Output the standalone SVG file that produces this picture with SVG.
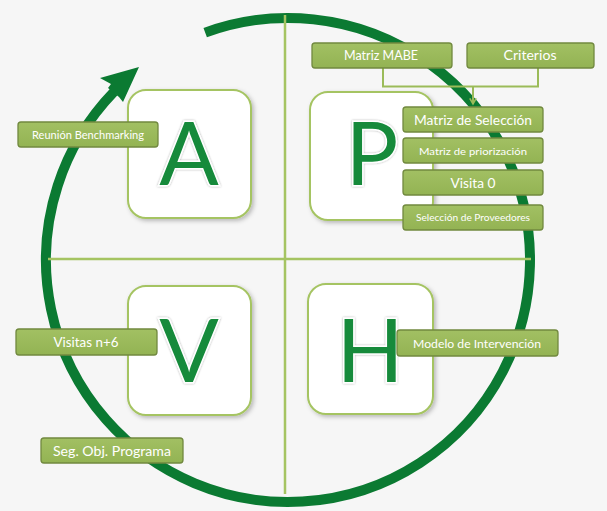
<svg xmlns="http://www.w3.org/2000/svg" width="607" height="511" viewBox="0 0 607 511">
<defs>
<filter id="sh" x="-20%" y="-20%" width="150%" height="150%">
<feDropShadow dx="2" dy="2" stdDeviation="2" flood-color="#000" flood-opacity="0.25"/>
</filter>
<filter id="lsh" x="-20%" y="-20%" width="140%" height="140%">
<feDropShadow dx="0" dy="0" stdDeviation="1.2" flood-color="#000" flood-opacity="0.35"/>
</filter>
<linearGradient id="lg" x1="0" y1="0" x2="0" y2="1">
<stop offset="0" stop-color="#a2c063"/>
<stop offset="1" stop-color="#93b353"/>
</linearGradient>
<marker id="arr" viewBox="0 0 10 10" refX="8" refY="5" markerWidth="8" markerHeight="8" markerUnits="userSpaceOnUse" orient="auto">
<path d="M1,1 L8,5 L1,9" fill="none" stroke="#9bbb59" stroke-width="2"/>
</marker>
</defs>
<style>
.bg{fill:#f6f6f6}
.cycle{fill:none;stroke:#0b7a32;stroke-width:10}
.axis{stroke:#a5c462;stroke-width:2.5;fill:none}
.card{fill:#fff;stroke:#a5c462;stroke-width:2;filter:url(#sh)}
.letter{font-family:Lato,"Open Sans","Liberation Sans",sans-serif;font-size:88px;fill:#138a3a;stroke:#fff;stroke-width:3;paint-order:stroke;text-anchor:middle;filter:url(#lsh)}
.lab{fill:url(#lg);stroke:#71893f;stroke-width:1.3}
.lt{font-family:Lato,"Open Sans","Liberation Sans",sans-serif;fill:#fff;text-anchor:middle;dominant-baseline:central}
.conn{fill:none;stroke:#9bbb59;stroke-width:2}
</style>
<rect class="bg" x="0" y="0" width="607" height="511"/>
<g id="cycle">
<path class="cycle" d="M205.2,32.6 A242,242 0 1 1 113.9,91.9"/>
<path d="M139,67 L100,78 L111,84 L108,88 L119,97 L123,102 Z" fill="#0b7a32"/>
</g>
<g id="axes">
<line class="axis" x1="285" y1="15" x2="285" y2="494"/>
<line class="axis" x1="48" y1="259" x2="531" y2="259"/>
</g>
<g id="node-A"><rect class="card" x="128" y="90" width="123" height="128" rx="18"/><text class="letter" x="189" y="185">A</text></g>
<g id="node-P"><rect class="card" x="310" y="92" width="123" height="128" rx="18"/><text class="letter" x="372" y="185">P</text></g>
<g id="node-V"><rect class="card" x="128" y="286" width="123" height="129" rx="18"/><text class="letter" x="189" y="382">V</text></g>
<g id="node-H"><rect class="card" x="308" y="284" width="125" height="130" rx="18"/><text class="letter" x="370" y="382">H</text></g>
<g id="connectors">
<path class="conn" d="M383,68 V86.5 H538 V68"/>
<path class="conn" d="M473,86.5 V104" marker-end="url(#arr)"/>
</g>
<g id="lbl-reunion"><rect class="lab" x="18" y="122" width="140" height="25" rx="3"/><text class="lt" x="88" y="134.5" font-size="11" textLength="112" lengthAdjust="spacingAndGlyphs">Reunión Benchmarking</text></g>
<g id="lbl-mabe"><rect class="lab" x="312" y="43" width="140" height="25" rx="3"/><text class="lt" x="381" y="55.5" font-size="12.5" textLength="74" lengthAdjust="spacingAndGlyphs">Matriz MABE</text></g>
<g id="lbl-criterios"><rect class="lab" x="467" y="43" width="127" height="25" rx="3"/><text class="lt" x="530" y="55.5" font-size="12.5" textLength="53" lengthAdjust="spacingAndGlyphs">Criterios</text></g>
<g id="lbl-seleccion"><rect class="lab" x="403" y="107" width="140" height="25" rx="3"/><text class="lt" x="473" y="119.5" font-size="13" textLength="118" lengthAdjust="spacingAndGlyphs">Matriz de Selección</text></g>
<g id="lbl-priorizacion"><rect class="lab" x="403" y="138" width="140" height="25" rx="3"/><text class="lt" x="473" y="150.5" font-size="10" textLength="108" lengthAdjust="spacingAndGlyphs">Matriz de priorización</text></g>
<g id="lbl-visita0"><rect class="lab" x="403" y="170" width="140" height="25" rx="3"/><text class="lt" x="473" y="182.5" font-size="13" textLength="45" lengthAdjust="spacingAndGlyphs">Visita 0</text></g>
<g id="lbl-proveedores"><rect class="lab" x="403" y="205" width="140" height="25" rx="3"/><text class="lt" x="473" y="217.5" font-size="9.5" textLength="114" lengthAdjust="spacingAndGlyphs">Selección de Proveedores</text></g>
<g id="lbl-visitas"><rect class="lab" x="16" y="329" width="141" height="26" rx="3"/><text class="lt" x="86" y="342" font-size="13" textLength="65" lengthAdjust="spacingAndGlyphs">Visitas n+6</text></g>
<g id="lbl-seg"><rect class="lab" x="41" y="438" width="142" height="25" rx="3"/><text class="lt" x="112" y="450.5" font-size="13" textLength="118" lengthAdjust="spacingAndGlyphs">Seg. Obj. Programa</text></g>
<g id="lbl-modelo"><rect class="lab" x="397" y="330" width="161" height="26" rx="3"/><text class="lt" x="477" y="343" font-size="12" textLength="128" lengthAdjust="spacingAndGlyphs">Modelo de Intervención</text></g>
</svg>
